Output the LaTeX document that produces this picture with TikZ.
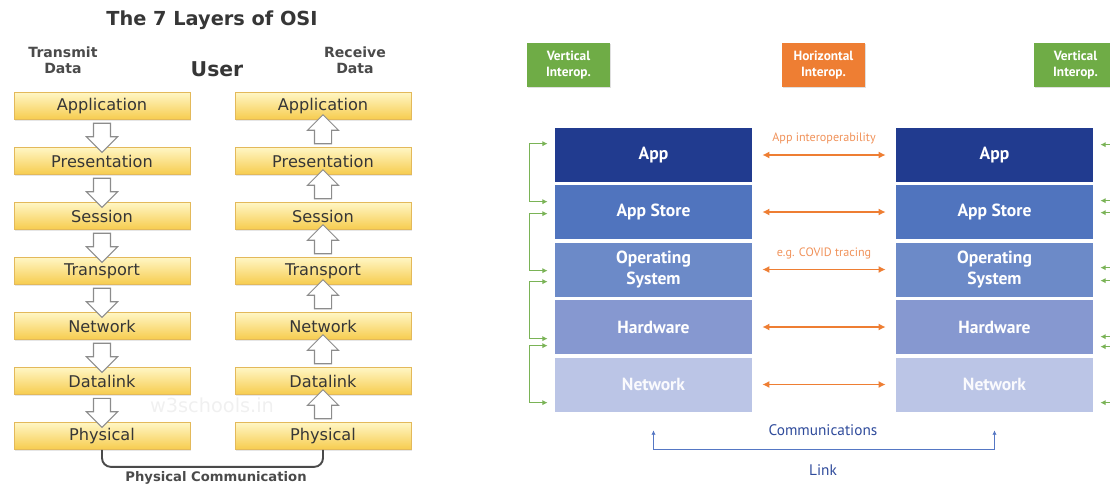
\documentclass[tikz,border=0pt]{standalone}
\usepackage{fontspec}
\setmainfont{DejaVu Sans}
\newfontfamily\ptsans{PT Sans}
\usetikzlibrary{shapes.arrows,shadows,calc,arrows.meta}

\definecolor{inktext}{HTML}{363636}
\definecolor{headgray}{HTML}{4A4A4A}
\definecolor{boxtop}{HTML}{FFF6C4}
\definecolor{boxbottom}{HTML}{F6CC4E}
\definecolor{boxline}{HTML}{E3B95A}
\definecolor{arrowline}{HTML}{8C8C8C}
\definecolor{appblue}{HTML}{213B8F}
\definecolor{storeblue}{HTML}{5074BE}
\definecolor{osblue}{HTML}{6C8AC8}
\definecolor{hwblue}{HTML}{8698D0}
\definecolor{netblue}{HTML}{BBC5E6}
\definecolor{vgreen}{HTML}{6FAC46}
\definecolor{vlinkgreen}{HTML}{7AB356}
\definecolor{horange}{HTML}{EE7E33}
\definecolor{hlabel}{HTML}{F0925A}
\definecolor{linkblue}{HTML}{5577C4}
\definecolor{linktext}{HTML}{2F4B9B}

\tikzset{
    osibox/.style={draw=boxline, line width=0.4pt, top color=boxtop, bottom color=boxbottom,
        minimum width=3.52cm, minimum height=0.54cm, inner sep=0pt, text=inktext,
        font=\fontsize{9.2}{11}\selectfont,
        drop shadow={opacity=0.2, shadow xshift=0.8pt, shadow yshift=-0.8pt}},
    blockarrow/.style={single arrow, draw=arrowline, fill=white, line width=0.6pt,
        inner xsep=0.16cm, inner ysep=0pt, single arrow head extend=0.14cm, minimum height=0.58cm},
    headtext/.style={text=headgray, align=center, font=\bfseries\fontsize{8}{9}\selectfont},
    layer/.style={minimum width=3.94cm, minimum height=1.08cm, inner sep=0pt, text=white,
        align=center, font=\ptsans\bfseries\fontsize{10}{11.5}\selectfont},
    interop/.style={minimum width=1.66cm, minimum height=0.88cm, inner sep=0pt, text=white,
        align=center, font=\ptsans\bfseries\fontsize{7.6}{9}\selectfont,
        drop shadow={opacity=0.25, shadow xshift=0.8pt, shadow yshift=-0.8pt}},
    vlink/.style={draw=vlinkgreen, line width=0.7pt, >={Latex[length=3pt,width=3pt]}, <->},
    clink/.style={draw=linkblue, line width=0.8pt, >={Latex[length=2.5pt,width=2.5pt]}, <->},
    clabel/.style={text=linktext, font=\ptsans\fontsize{8.7}{10}\selectfont},
    physlink/.style={draw=headgray, line width=1.1pt, rounded corners=5pt}
}

\begin{document}
\begin{tikzpicture}[x=0.02cm, y=-0.02cm]
    \clip (0,0) rectangle (1110,485);

    % OSI model
    \node[text=inktext, font=\bfseries\fontsize{11}{13}\selectfont] (title) at (212,20) {The 7 Layers of OSI};
    \node[headtext] (tx) at (63,60) {Transmit\\Data};
    \node[headtext] (rx) at (355,60) {Receive\\Data};
    \node[text=inktext, font=\bfseries\fontsize{11.6}{13}\selectfont] (user) at (217,69) {User};
    \node[text=black!6, font=\fontsize{11}{13}\selectfont] (mark) at (212,405) {w3schools.in};

    \begin{scope}[every node/.style={osibox}]
        \node (t1) at (102,106) {Application};
        \node (t2) at (102,161) {Presentation};
        \node (t3) at (102,216) {Session};
        \node (t4) at (102,271) {Transport};
        \node (t5) at (102,326) {Network};
        \node (t6) at (102,381) {Datalink};
        \node (t7) at (102,436) {Physical};

        \node (r1) at (323,106) {Application};
        \node (r2) at (323,161) {Presentation};
        \node (r3) at (323,216) {Session};
        \node (r4) at (323,271) {Transport};
        \node (r5) at (323,326) {Network};
        \node (r6) at (323,381) {Datalink};
        \node (r7) at (323,436) {Physical};
    \end{scope}

    \begin{scope}[every node/.style={blockarrow, shape border rotate=270}]
        \node (d1) at ($(t1)!0.5!(t2)$) {};
        \node (d2) at ($(t2)!0.5!(t3)$) {};
        \node (d3) at ($(t3)!0.5!(t4)$) {};
        \node (d4) at ($(t4)!0.5!(t5)$) {};
        \node (d5) at ($(t5)!0.5!(t6)$) {};
        \node (d6) at ($(t6)!0.5!(t7)$) {};
    \end{scope}

    \begin{scope}[every node/.style={blockarrow, shape border rotate=90}]
        \node (u1) at ($(r1)!0.5!(r2)$) {};
        \node (u2) at ($(r2)!0.5!(r3)$) {};
        \node (u3) at ($(r3)!0.5!(r4)$) {};
        \node (u4) at ($(r4)!0.5!(r5)$) {};
        \node (u5) at ($(r5)!0.5!(r6)$) {};
        \node (u6) at ($(r6)!0.5!(r7)$) {};
    \end{scope}

    \draw[physlink] (t7.south) -- ++(0,-0.34cm) -| (r7.south);
    \node[text=headgray, font=\bfseries\fontsize{7.5}{9}\selectfont] (phys) at (216,478) {Physical Communication};

    % interoperability stacks
    \begin{scope}[every node/.style={interop}]
        \node[fill=vgreen] (vl) at (568.5,65) {Vertical\\Interop.};
        \node[fill=horange] (hz) at (823.5,65) {Horizontal\\Interop.};
        \node[fill=vgreen] (vr) at (1075.5,65) {Vertical\\Interop.};
    \end{scope}

    \begin{scope}[every node/.style={layer}]
        \node[fill=appblue] (a1) at (653.5,155) {App};
        \node[fill=storeblue] (a2) at (653.5,212) {App Store};
        \node[fill=osblue] (a3) at (653.5,269.5) {Operating\\System};
        \node[fill=hwblue] (a4) at (653.5,327) {Hardware};
        \node[fill=netblue, text=white!92!netblue] (a5) at (653.5,384.5) {Network};

        \node[fill=appblue] (b1) at (994.5,155) {App};
        \node[fill=storeblue] (b2) at (994.5,212) {App Store};
        \node[fill=osblue] (b3) at (994.5,269.5) {Operating\\System};
        \node[fill=hwblue] (b4) at (994.5,327) {Hardware};
        \node[fill=netblue, text=white!92!netblue] (b5) at (994.5,384.5) {Network};
    \end{scope}

    \begin{scope}[every node/.style={text=hlabel, font=\ptsans\fontsize{6.9}{8}\selectfont, inner sep=1pt},
                  every edge/.style={draw=horange, line width=1.1pt, >={Latex[length=4pt,width=4pt]}, <->,
                                     shorten <=0.2cm, shorten >=0.2cm}]
        \path (a1) edge node[above=0.16cm] (lab1) {App interoperability} (b1);
        \path (a2) edge (b2);
        \path (a3) edge node[above=0.16cm] (lab3) {e.g. COVID tracing} (b3);
        \path (a4) edge (b4);
        \path (a5) edge (b5);
    \end{scope}

    % vertical links, left
    \draw[vlink] ([xshift=-0.14cm,yshift=-0.32cm]a1.north west) -- ++(-0.36cm,0) |- ([xshift=-0.14cm,yshift=-0.34cm]a2.north west);
    \draw[vlink] ([xshift=-0.14cm,yshift=-0.58cm]a2.north west) -- ++(-0.36cm,0) |- ([xshift=-0.14cm,yshift=-0.57cm]a3.north west);
    \draw[vlink] ([xshift=-0.14cm,yshift=-0.79cm]a3.north west) -- ++(-0.36cm,0) |- ([xshift=-0.14cm,yshift=-0.78cm]a4.north west);
    \draw[vlink] ([xshift=-0.14cm,yshift=-0.92cm]a4.north west) -- ++(-0.36cm,0) |- ([xshift=-0.14cm,yshift=-0.91cm]a5.north west);

    % vertical links, right
    \draw[vlink] ([xshift=0.14cm,yshift=-0.34cm]b1.north east) -- ++(0.36cm,0) |- ([xshift=0.14cm,yshift=-0.32cm]b2.north east);
    \draw[vlink] ([xshift=0.14cm,yshift=-0.56cm]b2.north east) -- ++(0.36cm,0) |- ([xshift=0.14cm,yshift=-0.51cm]b3.north east);
    \draw[vlink] ([xshift=0.14cm,yshift=-0.77cm]b3.north east) -- ++(0.36cm,0) |- ([xshift=0.14cm,yshift=-0.74cm]b4.north east);
    \draw[vlink] ([xshift=0.14cm,yshift=-0.94cm]b4.north east) -- ++(0.36cm,0) |- ([xshift=0.14cm,yshift=-0.91cm]b5.north east);

    \draw[clink] ([yshift=-0.37cm]a5.south) -- ++(0,-0.38cm) -| ([yshift=-0.37cm]b5.south);
    \node[clabel] (comm) at (823,430) {Communications};
    \node[clabel] (link) at (823,470) {Link};

\end{tikzpicture}
\end{document}
